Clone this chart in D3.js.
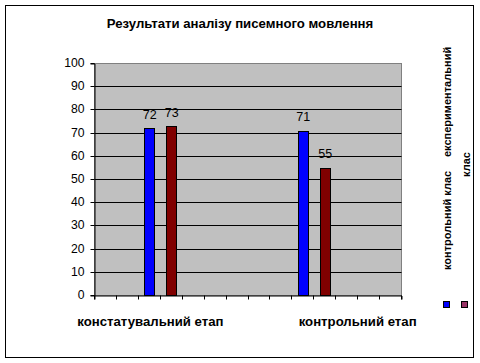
<!DOCTYPE html>
<html><head><meta charset="utf-8">
<script src="https://cdn.jsdelivr.net/npm/d3@7"></script>
<style>body{margin:0;background:#fff}svg{display:block}text{font-family:"Liberation Sans",Arial,sans-serif}</style>
</head><body>
<svg id="c" width="480" height="363"></svg>
<script>
const title = "Результати аналізу писемного мовлення";
const categories = ["констатувальний етап", "контрольний етап"];
const seriesNames = ["контрольний клас", "експериментальний клас"];
const controlClass = [72, 71];
const experimentalClass = [73, 55];
const seriesColors = ["#0000FF", "#800000"];
const legendColors = ["#0000FF", "#993366"];
const yTicks = [0, 10, 20, 30, 40, 50, 60, 70, 80, 90, 100];
// chart built on 14 category slots (Excel layout), groups start at these slots
const slotCount = 14;
const groupSlots = [2, 9];
const labelSlots = [2.55, 12];

const svg = d3.select("#c");
const L = 94.5, R = 401.5, T = 63.5, B = 295.5;

svg.append("rect").attr("x",5.5).attr("y",5.5).attr("width",468).attr("height",352)
  .attr("fill","#fff").attr("stroke","#000");

svg.append("text").attr("x",240).attr("y",28).attr("text-anchor","middle")
  .attr("font-size",13.2).attr("font-weight","bold").text(title);

const x = d3.scaleBand().domain(d3.range(slotCount)).range([L, R]).padding(0);
const xs = d3.scaleLinear().domain([0, slotCount]).range([L, R]);
const y = d3.scaleLinear().domain([0, 100]).range([B, T]);

svg.append("rect").attr("x",L).attr("y",T).attr("width",R-L).attr("height",B-T)
  .attr("fill","#C0C0C0").attr("stroke","#808080");

svg.append("g").selectAll("line").data(yTicks.filter(v => v > 0 && v < 100)).join("line")
  .attr("x1",L).attr("x2",R)
  .attr("y1",d => Math.round(y(d)-0.5)+0.5).attr("y2",d => Math.round(y(d)-0.5)+0.5)
  .attr("stroke","#000");

// y axis
const ya = d3.axisLeft(y).tickValues(yTicks).tickSize(4).tickPadding(6);
const gy = svg.append("g").attr("transform",`translate(${L},0)`).call(ya);
gy.selectAll("text").attr("font-size",12.2).attr("fill","#000").style("font-family","Liberation Sans, Arial");
gy.selectAll("line,path").attr("stroke","#000");
gy.selectAll(".tick").attr("transform", d => `translate(0,${Math.round(y(d)-0.5)+0.5})`);

// x axis with slot ticks
const xa = d3.axisBottom(xs).tickValues(d3.range(slotCount+1)).tickSize(4).tickFormat("");
const gx = svg.append("g").attr("transform",`translate(0,${B})`).call(xa);
gx.selectAll("line,path").attr("stroke","#000");
gx.selectAll(".tick").attr("transform", d => `translate(${Math.round(xs(d)-0.5)+0.5},0)`);

// bars
const bars = [];
categories.forEach((c, i) => {
  [controlClass, experimentalClass].forEach((s, j) => {
    bars.push({slot: groupSlots[i] + j, v: s[i], color: seriesColors[j]});
  });
});
const bw = 10;
const g = svg.append("g");
g.selectAll("rect").data(bars).join("rect")
  .attr("x", d => Math.round(x(d.slot) + x.bandwidth()/2 - bw/2) + 0.5)
  .attr("y", d => Math.round(y(d.v)) + 0.5)
  .attr("width", bw)
  .attr("height", d => B - 0.5 - Math.round(y(d.v)) - 0.5 + 0.5)
  .attr("fill", d => d.color).attr("stroke","#000");
g.selectAll("text").data(bars).join("text")
  .attr("x", d => x(d.slot) + x.bandwidth()/2 + 0.5)
  .attr("y", d => y(d.v) - 9.5)
  .attr("text-anchor","middle").attr("font-size",12.5).text(d => d.v);

// category labels
svg.append("g").selectAll("text").data(categories).join("text")
  .attr("x",(d,i) => xs(labelSlots[i])).attr("y",326)
  .attr("text-anchor","middle").attr("font-size",13.2).attr("font-weight","bold").text(d => d);

// legend (rotated)
const lg = svg.append("g");
const legendSwatchX = [443.5, 461.5];
legendColors.forEach((c, i) => {
  lg.append("rect").attr("x",legendSwatchX[i]).attr("y",301.5).attr("width",6).attr("height",6)
    .attr("fill",c).attr("stroke","#000");
});
const legendLines = [
  {t: "контрольний клас", x: 450.5, y: 270},
  {t: "експериментальний", x: 450.5, y: 157},
  {t: "клас", x: 470, y: 177}
];
lg.selectAll("text").data(legendLines).join("text")
  .attr("transform", d => `translate(${d.x},${d.y}) rotate(-90)`)
  .attr("font-size",11).attr("font-weight","bold").text(d => d.t);
</script>
</body></html>
